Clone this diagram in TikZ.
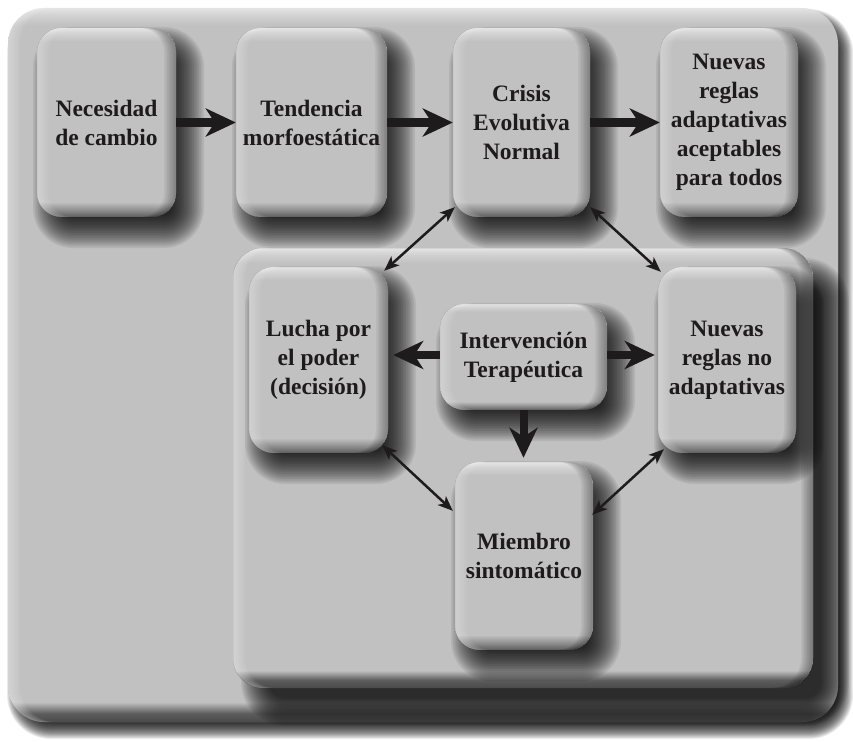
\documentclass[tikz,border=0pt]{standalone}
\usepackage{fontspec}
\setmainfont{Liberation Serif}
\usetikzlibrary{arrows.meta,calc}
\definecolor{flatc}{HTML}{C1C1C1}
\definecolor{inkc}{HTML}{1E1B1C}
\definecolor{cfa}{HTML}{4A4A4A}
\definecolor{cfb}{HTML}{5C5C5C}
\definecolor{cfc}{HTML}{858585}
\definecolor{cfd}{HTML}{D2D2D2}
\definecolor{cfe}{HTML}{E4E4E4}
\pgfdeclareverticalshading{boxshade}{100bp}{color(0bp)=(cfb); color(25bp)=(cfb); color(26.5bp)=(cfc); color(29bp)=(flatc); color(71.5bp)=(flatc); color(73.5bp)=(cfd); color(75bp)=(cfe); color(100bp)=(cfe)}
\pgfdeclareverticalshading{panshadeA}{100bp}{color(0bp)=(cfa); color(25bp)=(cfa); color(25.6bp)=(cfb); color(26.4bp)=(flatc); color(73.8bp)=(flatc); color(74.5bp)=(cfd); color(75bp)=(cfe); color(100bp)=(cfe)}
\pgfdeclareverticalshading{panshadeB}{100bp}{color(0bp)=(cfa); color(25bp)=(cfa); color(25.9bp)=(cfb); color(27bp)=(flatc); color(73.3bp)=(flatc); color(74.3bp)=(cfd); color(75bp)=(cfe); color(100bp)=(cfe)}
\def\shadowop{0.07}
% #1 x1 #2 y1 #3 x2 #4 y2 #5 radius #6 dx #7 dy #8 blur
\newcommand\softshadow[8]{%
  \foreach \j in {0,...,19}{%
    \pgfmathsetmacro\myE{#8*(\j/9.5-1)}%
    \pgfmathsetmacro\myR{max(#5+\myE,1)}%
    \fill[black,opacity=\shadowop,rounded corners=\myR pt]
      ({#1+#6-\myE},{#2+#7-\myE}) rectangle ({#3+#6+\myE},{#4+#7+\myE});
  }}
% #1 x1 #2 y1 #3 x2 #4 y2 #5 radius #6 shading #7 right dark opacity #8 left light opacity
\newcommand\bevelfill[8]{%
  \shade[rounded corners=#5pt, shading=#6] (#1,#2) rectangle (#3,#4);
  \begin{scope}
    \clip[rounded corners=#5pt] (#1,#2) rectangle (#3,#4);
    \foreach \s in {1.5,3,...,12}{%
      \fill[black,opacity=#7,even odd rule,rounded corners=#5pt]
        (#1,#2) rectangle (#3,#4) ({#1-\s},#2) rectangle ({#3-\s},#4);
      \fill[white,opacity=#8,even odd rule,rounded corners=#5pt]
        (#1,#2) rectangle (#3,#4) ({#1+\s},#2) rectangle ({#3+\s},#4);
    }%
  \end{scope}
}
% #1 name #2 x1 #3 y1 #4 x2 #5 y2 #6 text
\newcommand\bbox[6]{%
  \softshadow{#2}{#3}{#4}{#5}{24}{12}{15}{16}
  \bevelfill{#2}{#3}{#4}{#5}{24}{boxshade}{0.045}{0.04}
  \node[boxtext, minimum width={(#4-#2)*1pt}, minimum height={(#5-#3)*1pt}]
    (#1) at ({(#2+#4)/2},{(#3+#5)/2}) {#6};
}
\tikzset{
  boxtext/.style={rectangle, inner sep=0pt, align=center, text=inkc,
    font=\fontsize{23.5}{29}\selectfont\bfseries},
  thickarrow/.style={line width=8pt, draw=inkc,
    -{Stealth[length=30pt,width=28pt,inset=9pt]}},
  thinarrow/.style={line width=2.5pt, draw=inkc,
    {Stealth[length=15pt,width=12pt,inset=4pt]}-{Stealth[length=15pt,width=12pt,inset=4pt]}}
}
\begin{document}
\begin{tikzpicture}[x=1pt,y=-1pt]
\useasboundingbox[fill=white] (0,0) rectangle (853,741);
% outer panel
\softshadow{8}{8}{838}{722}{36}{7}{9}{8}
\bevelfill{8}{8}{838}{722}{36}{panshadeA}{0}{0.05}
% inner panel
\def\shadowop{0.065}
\softshadow{233}{248}{813}{688}{30}{22}{24}{14}
\bevelfill{233}{248}{813}{688}{30}{panshadeB}{0.05}{0.05}
\def\shadowop{0.07}
% boxes
\bbox{nec}{37}{28}{176}{217}{Necesidad\\de cambio}
\bbox{tend}{236}{28}{387}{217}{Tendencia\\morfoestática}
\bbox{crisis}{453}{28}{590}{217}{Crisis\\Evolutiva\\Normal}
\bbox{nadapt}{660}{28}{798}{217}{Nuevas\\reglas\\adaptativas\\aceptables\\para todos}
\bbox{lucha}{249}{267}{388}{453}{Lucha por\\el poder\\(decisión)}
\bbox{nnoad}{658}{267}{796}{453}{Nuevas\\reglas no\\adaptativas}
\bbox{miem}{455}{462}{593}{650}{Miembro\\sintomático}
\bbox{interv}{440}{304}{607}{410}{Intervención\\Terapéutica}
% thick arrows
\draw[thickarrow] (nec.east) -- (tend.west);
\draw[thickarrow] (tend.east) -- (crisis.west);
\draw[thickarrow] (crisis.east) -- (nadapt.west);
\draw[thickarrow, shorten >=5pt] ([yshift=2pt]interv.west) -- ([yshift=2pt]interv.west -| lucha.east);
\draw[thickarrow, shorten >=3pt] ([yshift=2pt]interv.east) -- ([yshift=2pt]interv.east -| nnoad.west);
\draw[thickarrow, shorten >=4pt] (interv.south) -- (interv.south |- miem.north);
% thin double arrows
\draw[thinarrow] ($(crisis.south west)+(2,-10)$) -- ($(lucha.north east)+(-4,4)$);
\draw[thinarrow] ($(crisis.south east)+(0,-10)$) -- ($(nnoad.north west)+(3,5)$);
\draw[thinarrow] ($(lucha.south east)+(-6,-8)$) -- ($(miem.north west)+(-2,49)$);
\draw[thinarrow] ($(nnoad.south west)+(6,-4)$) -- ($(miem.north east)+(-1,53)$);
\end{tikzpicture}
\end{document}
